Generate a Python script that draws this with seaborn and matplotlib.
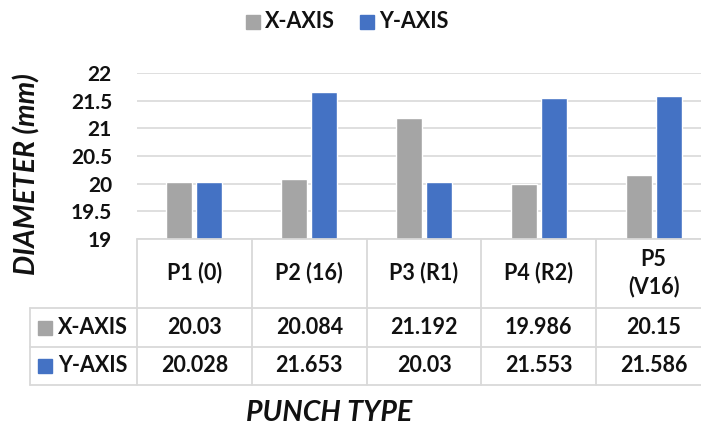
import matplotlib
matplotlib.use("Agg")
import matplotlib.pyplot as plt
from matplotlib.lines import Line2D
from matplotlib.patches import Rectangle
from matplotlib.transforms import blended_transform_factory
import seaborn as sns
import pandas as pd

# Data
punch_types = ["P1 (0)", "P2 (16)", "P3 (R1)", "P4 (R2)", "P5\n(V16)"]
x_axis = [20.03, 20.084, 21.192, 19.986, 20.15]
y_axis = [20.028, 21.653, 20.03, 21.553, 21.586]
series_names = ["X-AXIS", "Y-AXIS"]
x_axis_text = ["20.03", "20.084", "21.192", "19.986", "20.15"]
y_axis_text = ["20.028", "21.653", "20.03", "21.553", "21.586"]
y_ticks = [19, 19.5, 20, 20.5, 21, 21.5, 22]
y_tick_labels = ["19", "19.5", "20", "20.5", "21", "21.5", "22"]

colors = {"X-AXIS": "#A5A5A5", "Y-AXIS": "#4472C4"}
grid_color = "#D9D9D9"
text_color = "#111111"

df = pd.DataFrame({
    "punch": punch_types * 2,
    "diameter": x_axis + y_axis,
    "series": [series_names[0]] * 5 + [series_names[1]] * 5,
})

sns.set_theme(style="white")
plt.rcParams["font.family"] = ["Lato", "DejaVu Sans"]
plt.rcParams["font.weight"] = "bold"

W, H = 701, 428
fig = plt.figure(figsize=(W / 100, H / 100), dpi=100)
fig.patch.set_facecolor("white")


def fx(px):
    return px / W


def fy(py):
    return 1 - py / H


# plot area in pixel terms
left, right, top, bottom = 137, 711, 73, 239
ax = fig.add_axes([fx(left), fy(bottom), fx(right - left), (bottom - top) / H])

sns.barplot(data=df, x="punch", y="diameter", hue="series", palette=colors,
            width=0.52, gap=0.13, saturation=1, ax=ax, legend=False,
            order=punch_types, hue_order=series_names, zorder=3)

ax.set_ylim(19, 22)
ax.set_xlim(-0.5, 4.5)
ax.set_yticks(y_ticks)
ax.set_yticklabels(y_tick_labels, fontsize=15, fontweight="bold", color=text_color)
ax.set_xticks([])
ax.set_xlabel("")
ax.set_ylabel("")
ax.tick_params(axis="y", length=0, pad=18)
ax.yaxis.grid(True, color=grid_color, linewidth=1.2, zorder=0)
ax.set_axisbelow(True)
for s in ax.spines.values():
    s.set_visible(False)

# Data table below the plot area
tr = blended_transform_factory(ax.transData, fig.transFigure)
lc = dict(color=grid_color, linewidth=1.3, clip_on=False)

row_y = [308, 347, 385]
table_left = 30
# horizontal rules
fig.add_artist(Line2D([fx(left), 1.05], [fy(239), fy(239)], transform=fig.transFigure, **lc))
for yy in row_y:
    fig.add_artist(Line2D([fx(table_left), 1.05], [fy(yy), fy(yy)], transform=fig.transFigure, **lc))
# vertical rules
for i in range(6):
    fig.add_artist(Line2D([i - 0.5, i - 0.5], [fy(239), fy(385)], transform=tr, **lc))
fig.add_artist(Line2D([fx(table_left), fx(table_left)], [fy(308), fy(385)],
                      transform=fig.transFigure, **lc))

txt = dict(ha="center", va="center", fontsize=15.5, fontweight="bold", color=text_color)
for i, lab in enumerate(punch_types):
    fig.text(i, fy(273), lab, transform=tr, linespacing=1.35, **txt)
for i in range(5):
    fig.text(i, fy(327.5), x_axis_text[i], transform=tr, **txt)
    fig.text(i, fy(366), y_axis_text[i], transform=tr, **txt)

# row headers with colour keys
for name, yc in zip(series_names, [327.5, 366]):
    fig.add_artist(Rectangle((fx(38), fy(yc + 7)), fx(14), 14 / H,
                             transform=fig.transFigure, color=colors[name]))
    fig.text(fx(58), fy(yc), name, ha="left", va="center", fontsize=15.5,
             fontweight="bold", color=text_color)

# legend at the top
for name, x0 in zip(series_names, [246, 360]):
    fig.add_artist(Rectangle((fx(x0), fy(29)), fx(14), 14 / H,
                             transform=fig.transFigure, color=colors[name]))
    fig.text(fx(x0 + 19), fy(22), name, ha="left", va="center", fontsize=15.5,
             fontweight="bold", color=text_color)

# axis titles
fig.text(fx(27), fy(174), "DIAMETER (mm)", rotation=90, ha="center", va="center",
         fontsize=20.5, fontweight="bold", fontstyle="italic", color=text_color)
fig.text(fx(329), fy(413), "PUNCH TYPE", ha="center", va="center",
         fontsize=20.5, fontweight="bold", fontstyle="italic", color=text_color)

fig.savefig("out.png", dpi=100, facecolor="white")
